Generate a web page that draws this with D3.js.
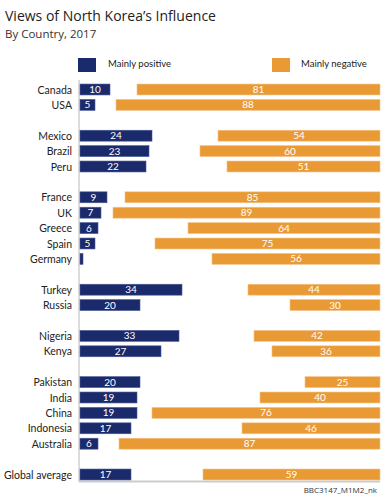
<!DOCTYPE html>
<html>
<head>
<meta charset="utf-8">
<script src="https://cdn.jsdelivr.net/npm/d3@7"></script>
<style>
  body { margin: 0; background: #fff; }
  svg { display: block; font-family: "Open Sans", sans-serif; }
</style>
</head>
<body>
<svg id="chart" width="388" height="500"></svg>
<script>
// country groups, blank rows between them
var groups = [
  ["Canada", "USA"],
  ["Mexico", "Brazil", "Peru"],
  ["France", "UK", "Greece", "Spain", "Germany"],
  ["Turkey", "Russia"],
  ["Nigeria", "Kenya"],
  ["Pakistan", "India", "China", "Indonesia", "Australia"],
  ["Global average"]
];
var positive = [10, 5, 24, 23, 22, 9, 7, 6, 5, 1, 34, 20, 33, 27, 20, 19, 19, 17, 6, 17];
var negative = [81, 88, 54, 60, 51, 85, 89, 64, 75, 56, 44, 30, 42, 36, 25, 40, 76, 46, 87, 59];
var seriesNames = ["Mainly positive", "Mainly negative"];

var navy = "#1b2a6b", orange = "#e99a35";

// build rows, spacer keys between groups
var rows = [], keys = [], k = 0;
groups.forEach(function(g, gi) {
  if (gi > 0) keys.push("gap" + gi);
  g.forEach(function(c) {
    rows.push({country: c, pos: positive[k], neg: negative[k]});
    keys.push(c);
    k++;
  });
});

var svg = d3.select("#chart");

var x = d3.scaleLinear().domain([0, 100]).range([80, 380]);
var y = d3.scaleBand().domain(keys).range([81.8, 482.2])
  .paddingInner(0.29).paddingOuter(0.145);

svg.append("text").attr("x", 5).attr("y", 21)
  .style("font-size", "14px").style("fill", "#222")
  .text("Views of North Korea\u2019s Influence");
svg.append("text").attr("x", 5).attr("y", 38)
  .style("font-size", "11.5px").style("fill", "#333")
  .text("By Country, 2017");

// legend
var legend = [{x: 78, tx: 108, c: navy}, {x: 272, tx: 301, c: orange}];
legend.forEach(function(l, i) {
  svg.append("rect").attr("x", l.x).attr("y", 58).attr("width", 18).attr("height", 14).attr("fill", l.c);
  svg.append("text").attr("x", l.tx).attr("y", 67)
    .style("font-family", "Lato, sans-serif")
    .style("font-size", "9.5px").style("fill", "#222").text(seriesNames[i]);
});

// axis lines
svg.append("line").attr("x1", 79).attr("x2", 79).attr("y1", 80).attr("y2", 482)
  .attr("stroke", "#b8b8b8").attr("stroke-width", 1);
svg.append("line").attr("x1", 79).attr("x2", 380).attr("y1", 481.5).attr("y2", 481.5)
  .attr("stroke", "#cccccc").attr("stroke-width", 2);

var bh = y.bandwidth();

// positive bars from left
svg.selectAll("rect.pos").data(rows).enter().append("rect")
  .attr("class", "pos")
  .attr("x", x(0))
  .attr("y", function(d) { return y(d.country); })
  .attr("width", function(d) { return x(d.pos) - x(0); })
  .attr("height", bh)
  .attr("fill", navy)
  .attr("stroke", "#4a5a96").attr("stroke-width", 0.6);

// negative bars from right
svg.selectAll("rect.neg").data(rows).enter().append("rect")
  .attr("class", "neg")
  .attr("x", function(d) { return x(100 - d.neg); })
  .attr("y", function(d) { return y(d.country); })
  .attr("width", function(d) { return x(100) - x(100 - d.neg); })
  .attr("height", bh)
  .attr("fill", orange)
  .attr("stroke", "#f2c38a").attr("stroke-width", 0.6);

// value labels
svg.selectAll("text.posv").data(rows.filter(function(d) { return d.pos >= 3; })).enter().append("text")
  .attr("x", function(d) { return (x(0) + x(d.pos)) / 2; })
  .attr("y", function(d) { return y(d.country) + bh / 2 + 3.5; })
  .attr("text-anchor", "middle")
  .style("font-family", "Lato, sans-serif")
  .style("font-size", "10px").style("fill", "#fff")
  .text(function(d) { return d.pos; });

svg.selectAll("text.negv").data(rows).enter().append("text")
  .attr("x", function(d) { return (x(100 - d.neg) + x(100)) / 2; })
  .attr("y", function(d) { return y(d.country) + bh / 2 + 3.5; })
  .attr("text-anchor", "middle")
  .style("font-family", "Lato, sans-serif")
  .style("font-size", "10px").style("fill", "#fff")
  .text(function(d) { return d.neg; });

// country labels
svg.selectAll("text.lab").data(rows).enter().append("text")
  .attr("x", 72)
  .attr("y", function(d) { return y(d.country) + bh / 2 + 4; })
  .attr("text-anchor", "end")
  .style("font-family", "Lato, sans-serif")
  .style("font-size", "10.5px").style("fill", "#222")
  .text(function(d) { return d.country; });

svg.append("text").attr("x", 377).attr("y", 493).attr("text-anchor", "end")
  .style("font-size", "8px").style("fill", "#333").text("BBC3147_M1M2_nk");
</script>
</body>
</html>
